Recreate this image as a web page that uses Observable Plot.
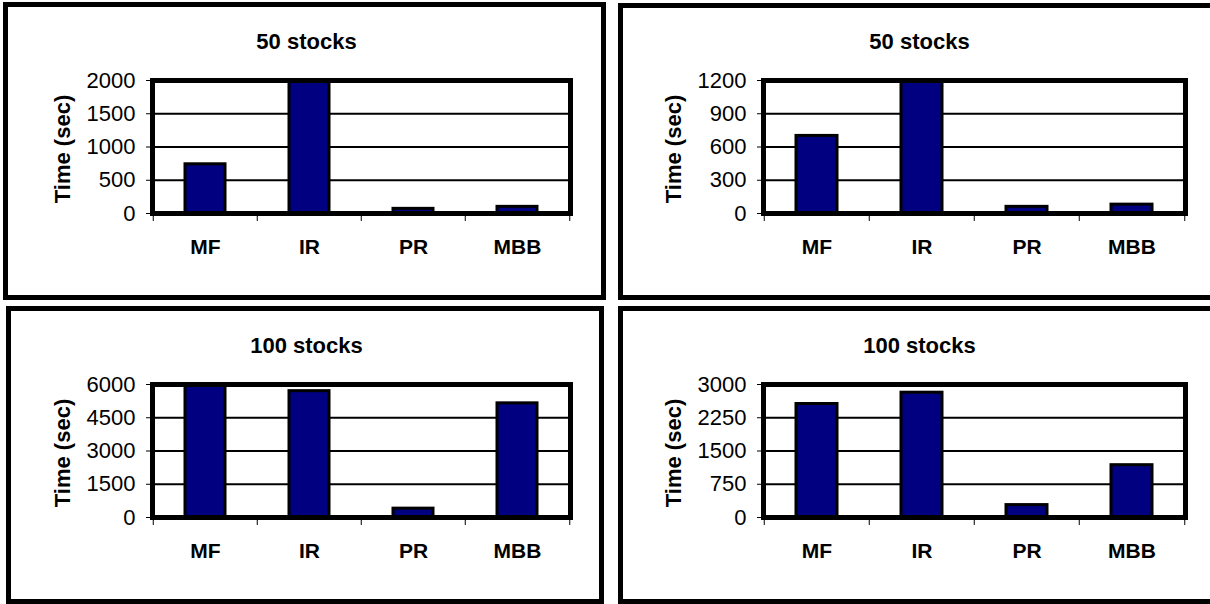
<!DOCTYPE html>
<html>
<head>
<meta charset="utf-8">
<script src="https://cdn.jsdelivr.net/npm/d3@7"></script>
<script src="https://cdn.jsdelivr.net/npm/@observablehq/plot@0.6"></script>
<style>
  html, body { margin: 0; padding: 0; background: #fff; }
  body { position: relative; width: 1210px; height: 604px; overflow: hidden; }
  .box { position: absolute; box-sizing: border-box; border: 5px solid #000; }
  .chart { position: absolute; }
</style>
</head>
<body>
<script>
// Run times of the four methods
const categories = ["MF", "IR", "PR", "MBB"];

const time50Left = [740, 2000, 70, 100];
const time50Right = [700, 1200, 60, 80];
const time100Left = [6000, 5700, 400, 5150];
const time100Right = [2560, 2815, 280, 1180];

const ticks50Left = [0, 500, 1000, 1500, 2000];
const ticks50Right = [0, 300, 600, 900, 1200];
const ticks100Left = [0, 1500, 3000, 4500, 6000];
const ticks100Right = [0, 750, 1500, 2250, 3000];

const titles = ["50 stocks", "50 stocks", "100 stocks", "100 stocks"];
const yLabel = "Time (sec)";

const font = "'Liberation Sans', Arial, Helvetica, sans-serif";

function panel(title, values, ticks, layout) {
  const {left, top, width, height, ml, mr, mt, mb} = layout;
  const data = categories.map((method, i) => ({method, time: values[i]}));
  const plotW = width - ml - mr;
  const plotH = height - mt - mb;
  const bw = plotW / categories.length;
  const barInset = 32;

  const svg = Plot.plot({
    width, height,
    marginLeft: ml, marginRight: mr, marginTop: mt, marginBottom: mb,
    style: {fontFamily: font, fontSize: "22px", color: "#000", background: "transparent", overflow: "visible"},
    x: {domain: categories, padding: 0, label: null},
    y: {domain: [0, ticks[ticks.length - 1]], label: null},
    marks: [
      Plot.ruleY(ticks, {stroke: "#000", strokeWidth: 2}),
      Plot.barY(data, {
        x: "method", y: "time",
        fill: "#000080", stroke: "#000", strokeWidth: 3,
        insetLeft: barInset, insetRight: barInset
      }),
      Plot.frame({stroke: "#000", strokeWidth: 5}),
      Plot.axisY({
        ticks, tickSize: 6, tickPadding: 11,
        tickFormat: d => String(d),
        fontSize: 22, label: null
      }),
      Plot.axisX({tickSize: 0, tickPadding: 26, fontWeight: "bold", fontSize: 21, label: null}),
      // category boundary ticks under the plot area
      Plot.ruleX(categories, {x: d => d, dx: -bw / 2, insetTop: plotH + 3, insetBottom: -8, stroke: "#000", strokeWidth: 1}),
      Plot.ruleX(categories.slice(-1), {x: d => d, dx: bw / 2, insetTop: plotH + 3, insetBottom: -8, stroke: "#000", strokeWidth: 1}),
      Plot.text([title], {
        text: d => d, frameAnchor: "top", dx: -55, dy: -32,
        lineAnchor: "bottom", fontWeight: "bold", fontSize: 22
      }),
      Plot.text([yLabel], {
        text: d => d, frameAnchor: "left", rotate: -90, dx: -90, dy: 2,
        textAnchor: "middle", lineAnchor: "middle", fontWeight: "bold", fontSize: 22
      })
    ]
  });
  svg.classList.add("chart");
  svg.style.left = left + "px";
  svg.style.top = top + "px";
  return svg;
}

function box(left, top, width, height) {
  const div = document.createElement("div");
  div.className = "box";
  Object.assign(div.style, {left: left + "px", top: top + "px", width: width + "px", height: height + "px"});
  return div;
}

document.body.append(
  box(3, 2, 603, 298),
  box(618, 3, 600, 297),
  box(6, 306, 598, 298),
  box(618, 306, 600, 298)
);

document.body.append(
  panel(titles[0], time50Left, ticks50Left, {left: 0, top: 0, width: 608, height: 304, ml: 152, mr: 38, mt: 80, mb: 91}),
  panel(titles[1], time50Right, ticks50Right, {left: 608, top: 0, width: 602, height: 304, ml: 155, mr: 25, mt: 80, mb: 91}),
  panel(titles[2], time100Left, ticks100Left, {left: 0, top: 304, width: 608, height: 300, ml: 152, mr: 38, mt: 80, mb: 87}),
  panel(titles[3], time100Right, ticks100Right, {left: 608, top: 304, width: 602, height: 300, ml: 155, mr: 25, mt: 80, mb: 87})
);
</script>
</body>
</html>
